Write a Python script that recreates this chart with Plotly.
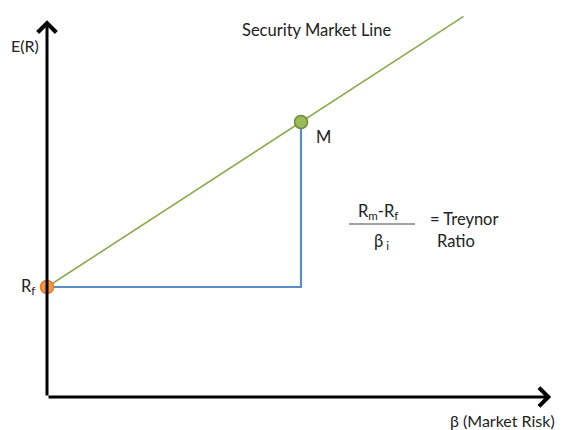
import plotly.graph_objects as go

# Data (beta, expected return)
rf = 4.0
rm = 10.0
beta_m = 1.0
sml_beta = [0.0, 1.64]
sml_ret = [rf + (rm - rf) * b for b in sml_beta]

FONT = "Lato"
green = "#8DAA4C"
blue = "#5B8EC8"
OFF = 8  # page body margin


def px(p):
    return (p - OFF) / 563


def py(p):
    return 1 - (p - OFF) / 430


fig = go.Figure()
fig.add_trace(go.Scatter(x=sml_beta, y=sml_ret, mode="lines",
                         line=dict(color=green, width=1.6), hoverinfo="skip"))
fig.add_trace(go.Scatter(x=[0, beta_m, beta_m], y=[rf, rf, rm], mode="lines",
                         line=dict(color=blue, width=2.2), hoverinfo="skip"))
fig.add_trace(go.Scatter(x=[0], y=[rf], mode="markers",
                         marker=dict(size=13, color="#F79646", line=dict(color="#E07D2E", width=1.5))))
fig.add_trace(go.Scatter(x=[beta_m], y=[rm], mode="markers",
                         marker=dict(size=13, color="#9BBB59", line=dict(color="#71893F", width=1.5))))

# axes with arrows
fig.add_annotation(x=0, y=13.7, ax=0, ay=0, xref="x", yref="y", axref="x", ayref="y",
                   showarrow=True, arrowhead=4, arrowsize=1.2, arrowwidth=3, arrowcolor="black", text="")
fig.add_annotation(x=1.985, y=0, ax=0, ay=0, xref="x", yref="y", axref="x", ayref="y",
                   showarrow=True, arrowhead=4, arrowsize=1.2, arrowwidth=3, arrowcolor="black", text="")

tf = dict(family=FONT, size=16.5, color="#222222")


def label(x, y, text, xanchor="center", size=16.5):
    fig.add_annotation(xref="paper", yref="paper", x=px(x), y=py(y), text=text, showarrow=False,
                       xanchor=xanchor, yanchor="middle", font=dict(tf, size=size))


fig.add_annotation(x=0, y=rf, text="R<sub>f</sub>", showarrow=False, xshift=-19, yshift=1,
                   xanchor="center", yanchor="middle", font=tf)
fig.add_annotation(x=beta_m, y=rm, text="M", showarrow=False, xshift=22, yshift=-15,
                   xanchor="center", yanchor="middle", font=tf)
label(9, 45, "E(R)", "left", 16)
label(317, 30, "Security Market Line")
label(502, 420, "β (Market Risk)", "center", 16)
label(378, 211, "R<sub>m</sub>-R<sub>f</sub>")
label(381, 241, "β<sub> i</sub>")
label(428, 219, "= Treynor", "left")
label(456, 241, "Ratio")
fig.add_shape(type="line", xref="paper", yref="paper", x0=px(349), x1=px(415),
              y0=py(224), y1=py(224), line=dict(color="#444444", width=1))

fig.update_layout(
    width=563, height=430, margin=dict(l=0, r=0, t=0, b=0),
    paper_bgcolor="white", plot_bgcolor="white", showlegend=False,
    xaxis=dict(range=[(OFF - 47) / 254, (563 + OFF - 47) / 254], visible=False),
    yaxis=dict(range=[(397 - 430 - OFF) / 27.5, (397 - OFF) / 27.5], visible=False),
)
fig.write_html("out.html")
